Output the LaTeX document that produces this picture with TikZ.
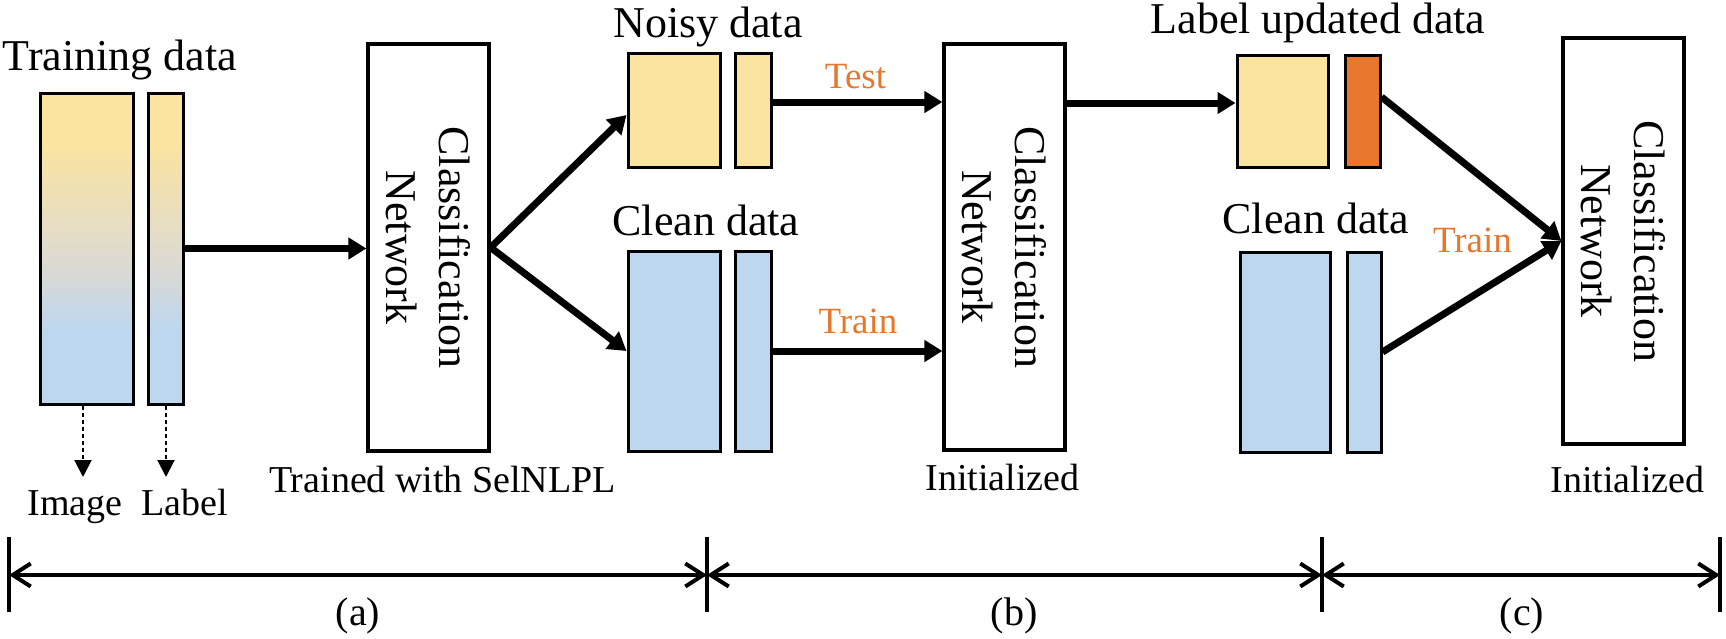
\documentclass[tikz,border=0pt]{standalone}
\usepackage{fontspec}
\setmainfont{Liberation Serif}
\usetikzlibrary{arrows.meta,calc}
\definecolor{dyellow}{HTML}{FBE4A0}
\definecolor{dblue}{HTML}{BDD7EE}
\definecolor{dgray}{HTML}{DBD9D5}
\definecolor{dorange}{HTML}{E8762D}
\definecolor{torange}{HTML}{E4782E}
\pgfdeclareverticalshading{tdshade}{100bp}{color(0bp)=(dblue); color(37bp)=(dblue); color(46.5bp)=(dgray); color(67bp)=(dyellow); color(100bp)=(dyellow)}
\tikzset{
  databox/.style={draw=black, line width=3pt, inner sep=0pt, rectangle},
  netbox/.style={draw=black, line width=3.2pt, inner sep=0pt, rectangle, fill=white},
  arr/.style={line width=7pt, -{Triangle[length=18pt,width=21pt]}},
  dasharr/.style={line width=2pt, dash pattern=on 4pt off 3pt, -{Triangle[length=17pt,width=17pt]}},
  dimarr/.style={line width=4pt, {Straight Barb[length=18pt,width=23pt]}-{Straight Barb[length=18pt,width=23pt]}},
  tick/.style={line width=3.5pt},
  bigtxt/.style={font=\fontsize{44}{53}\selectfont, inner sep=0pt, anchor=base},
  smalltxt/.style={font=\fontsize{38}{45}\selectfont, inner sep=0pt, anchor=base},
  orangetxt/.style={font=\fontsize{37}{44}\selectfont, text=torange, inner sep=0pt, anchor=base},
  nettxt/.style={font=\fontsize{44}{53}\selectfont, inner sep=0pt, rotate=-90, align=center}
}
\begin{document}
\begin{tikzpicture}[x=1pt,y=-1pt]
\useasboundingbox (0,0) rectangle (1726,638);

% (a) training data
\node[bigtxt] (tdtxt) at (120,70) {Training data};
\node[databox, shading=tdshade, minimum width=93pt, minimum height=311pt] (img1) at (86.5,248.5) {};
\node[databox, shading=tdshade, minimum width=35pt, minimum height=311pt] (lab1) at (165.5,248.5) {};
\coordinate (imgtip) at (83,477);
\coordinate (labtip) at (166,477);
\draw[dasharr] (img1.south -| imgtip) -- (imgtip);
\draw[dasharr] (lab1.south -| labtip) -- (labtip);
\node[smalltxt] (imgtxt) at (75,515) {Image};
\node[smalltxt] (labtxt) at (185,515) {Label};

\node[netbox, minimum width=121pt, minimum height=407pt] (cn1) at (428.5,247.5) {};
\node[nettxt] (cn1t) at (cn1.center) {Classification\\Network};
\node[smalltxt] (tr1) at (442.5,492) {Trained with SelNLPL};
\draw[arr] (lab1.east) -- (lab1.east -| cn1.west);

% (b)
\node[bigtxt] (noisytxt) at (708,37) {Noisy data};
\node[databox, fill=dyellow, minimum width=92pt, minimum height=114pt] (nimg) at (674,110) {};
\node[databox, fill=dyellow, minimum width=36pt, minimum height=114pt] (nlab) at (753,110) {};
\node[bigtxt] (cleantxt) at (706,235) {Clean data};
\node[databox, fill=dblue, minimum width=92pt, minimum height=200pt] (cimg) at (674,351) {};
\node[databox, fill=dblue, minimum width=36pt, minimum height=200pt] (clab) at (753,351) {};
\draw[arr] (cn1.east) -- ([yshift=-5pt]nimg.west);
\draw[arr] (cn1.east) -- (cimg.west);

\node[netbox, minimum width=121pt, minimum height=406pt] (cn2) at (1004.5,247) {};
\node[nettxt] (cn2t) at (cn2.center) {Classification\\Network};
\node[smalltxt] (init2) at (1002.5,490) {Initialized};
\draw[arr] ([yshift=8pt]nlab.east) coordinate (ta) -- (ta -| cn2.west);
\draw[arr] (clab.east) -- (clab.east -| cn2.west);
\node[orangetxt] (testtxt) at (855.5,88) {Test};
\node[orangetxt] (train1) at (858,333) {Train};

% (c)
\node[bigtxt] (lutxt) at (1318,33) {Label updated data};
\node[databox, fill=dyellow, minimum width=91pt, minimum height=112pt] (uimg) at (1282.5,111) {};
\node[databox, fill=dorange, minimum width=35pt, minimum height=112pt] (ulab) at (1362.5,111) {};
\draw[arr] ([yshift=8pt]uimg.west -| cn2.east) -- ([yshift=8pt]uimg.west);
\node[bigtxt] (clean2txt) at (1316,233) {Clean data};
\node[databox, fill=dblue, minimum width=90pt, minimum height=200pt] (cimg2) at (1285,352) {};
\node[databox, fill=dblue, minimum width=34pt, minimum height=200pt] (clab2) at (1364,352) {};

\node[netbox, minimum width=121pt, minimum height=406pt] (cn3) at (1623.5,241) {};
\node[nettxt] (cn3t) at (cn3.center) {Classification\\Network};
\node[smalltxt] (init3) at (1627.5,492) {Initialized};
\draw[arr] ([yshift=14pt]ulab.east) -- (cn3.west);
\draw[arr] (clab2.east) -- (cn3.west);
\node[orangetxt] (train2) at (1472.5,252) {Train};

% dimension line
\coordinate (t0) at (9,575);
\coordinate (t1) at (707,575);
\coordinate (t2) at (1322,575);
\coordinate (t3) at (1720,575);
\foreach \t in {t0,t1,t2,t3}{
  \draw[tick] ([yshift=38pt]\t) -- ([yshift=-37pt]\t);
}
\draw[dimarr] (t0) -- (t1);
\draw[dimarr] (t1) -- (t2);
\draw[dimarr] (t2) -- (t3);
\node[font=\fontsize{40}{48}\selectfont, inner sep=0pt, anchor=base] (la) at (358,625) {(a)};
\node[font=\fontsize{40}{48}\selectfont, inner sep=0pt, anchor=base] (lb) at (1014,625) {(b)};
\node[font=\fontsize{40}{48}\selectfont, inner sep=0pt, anchor=base] (lc) at (1522,625) {(c)};
\end{tikzpicture}
\end{document}
